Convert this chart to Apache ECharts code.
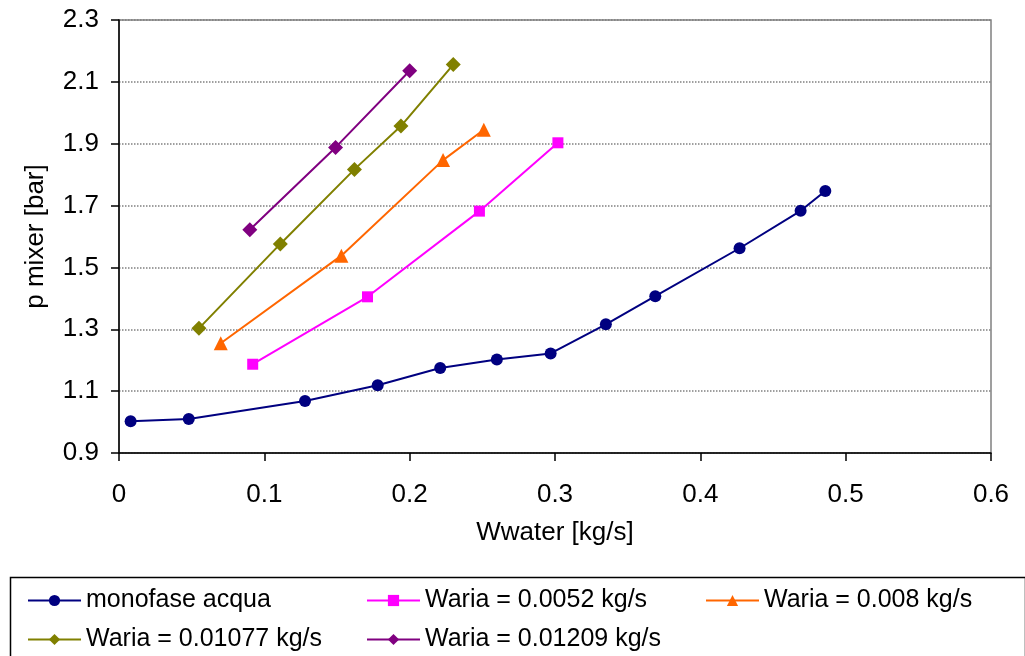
<!DOCTYPE html>
<html>
<head>
<meta charset="utf-8">
<script src="https://cdn.jsdelivr.net/npm/echarts@6/dist/echarts.min.js"></script>
<style>
html,body{margin:0;padding:0;background:#fff;}
#chart{width:1025px;height:656px;}
</style>
</head>
<body>
<div id="chart"></div>
<script>
// ---- data ----
const seriesNames = ["monofase acqua", "Waria = 0.0052 kg/s", "Waria = 0.008 kg/s", "Waria = 0.01077 kg/s", "Waria = 0.01209 kg/s"];

const monoX = [0.008, 0.048, 0.128, 0.178, 0.221, 0.260, 0.297, 0.335, 0.369, 0.427, 0.469, 0.486];
const monoY = [1.003, 1.010, 1.068, 1.119, 1.175, 1.202, 1.222, 1.316, 1.407, 1.562, 1.683, 1.747];

const w0052X = [0.092, 0.171, 0.248, 0.302];
const w0052Y = [1.187, 1.405, 1.682, 1.903];

const w008X = [0.070, 0.153, 0.223, 0.251];
const w008Y = [1.255, 1.538, 1.847, 1.945];

const w01077X = [0.055, 0.111, 0.162, 0.194, 0.230];
const w01077Y = [1.303, 1.576, 1.817, 1.957, 2.156];

const w01209X = [0.090, 0.149, 0.200];
const w01209Y = [1.622, 1.888, 2.136];

const xTicks = [0, 0.1, 0.2, 0.3, 0.4, 0.5, 0.6];
const yTicks = [0.9, 1.1, 1.3, 1.5, 1.7, 1.9, 2.1, 2.3];

// ---- chart ----
const FONT = "'Liberation Sans', Arial, sans-serif";
const FS = 26;
const pair = (xs, ys) => xs.map((x, i) => [x, ys[i]]);

const styles = [
  {color: '#000080', symbol: 'circle', size: 12},
  {color: '#FF00FF', symbol: 'rect', size: 11},
  {color: '#FF6600', symbol: 'triangle', size: 14},
  {color: '#808000', symbol: 'diamond', size: 15},
  {color: '#800080', symbol: 'diamond', size: 15}
];
const datasets = [pair(monoX, monoY), pair(w0052X, w0052Y), pair(w008X, w008Y), pair(w01077X, w01077Y), pair(w01209X, w01209Y)];

const series = seriesNames.map((name, i) => ({
  name: name,
  type: 'line',
  data: datasets[i],
  symbol: styles[i].symbol,
  symbolSize: styles[i].size,
  lineStyle: {color: styles[i].color, width: 2},
  itemStyle: {color: styles[i].color},
  animation: false
}));

const legendPos = [
  {left: 27, top: 588},
  {left: 366, top: 588},
  {left: 705, top: 588},
  {left: 27, top: 627},
  {left: 366, top: 627}
];
const legends = seriesNames.map((name, i) => ({
  data: [name],
  left: legendPos[i].left,
  top: legendPos[i].top,
  padding: 0,
  itemWidth: 53,
  itemHeight: 14,
  textStyle: {fontSize: FS - 1, color: '#000', fontFamily: FONT},
  selectedMode: false
}));

const chart = echarts.init(document.getElementById('chart'), null, {renderer: 'canvas'});
chart.setOption({
  animation: false,
  backgroundColor: '#fff',
  textStyle: {fontFamily: FONT},
  grid: {left: 119, right: 34, top: 20, bottom: 203, show: true, borderColor: '#808080', borderWidth: 1.5, backgroundColor: 'transparent'},
  xAxis: {
    type: 'value',
    min: xTicks[0], max: xTicks[xTicks.length - 1], interval: 0.1,
    name: 'Wwater [kg/s]',
    nameLocation: 'middle',
    nameGap: 67,
    nameTextStyle: {fontSize: FS, color: '#000', fontFamily: FONT},
    axisLine: {lineStyle: {color: '#000', width: 1.5}},
    axisTick: {show: true, inside: false, length: 8, lineStyle: {color: '#000', width: 1.5}},
    axisLabel: {fontSize: FS, color: '#000', margin: 29, fontFamily: FONT, formatter: v => String(Math.round(v * 10) / 10)},
    splitLine: {show: false}
  },
  yAxis: {
    type: 'value',
    min: yTicks[0], max: yTicks[yTicks.length - 1], interval: 0.2,
    name: 'p mixer [bar]',
    nameLocation: 'middle',
    nameGap: 70,
    nameTextStyle: {fontSize: FS, color: '#000', fontFamily: FONT},
    axisLine: {show: true, lineStyle: {color: '#000', width: 1.5}},
    axisTick: {show: true, inside: false, length: 8, lineStyle: {color: '#000', width: 1.5}},
    axisLabel: {fontSize: FS, color: '#000', margin: 20, fontFamily: FONT, formatter: v => v.toFixed(1)},
    splitLine: {show: true, lineStyle: {color: '#808080', type: 'dotted', width: 1.5}}
  },
  legend: legends,
  graphic: [{
    type: 'rect',
    left: 8, top: 575,
    shape: {width: 1015, height: 120},
    style: {fill: 'none', stroke: '#000', lineWidth: 1.5},
    silent: true
  }],
  series: series
});
</script>
</body>
</html>
